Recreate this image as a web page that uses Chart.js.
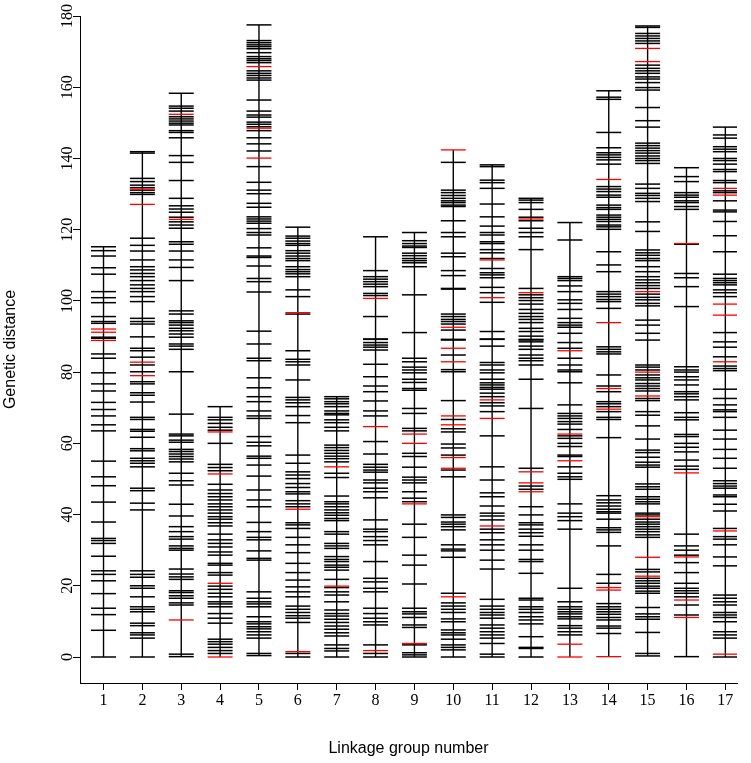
<!DOCTYPE html>
<html><head><meta charset="utf-8">
<script src="https://cdn.jsdelivr.net/npm/chart.js@4/dist/chart.umd.min.js"></script>
<style>html,body{margin:0;padding:0;background:#fff;}#wrap{width:751px;height:763px;}</style>
</head><body><div id="wrap"><canvas id="c" width="751" height="763"></canvas></div>
<script>
// Linkage group numbers (x categories) and y-axis tick labels
const groupNumbers = [1,2,3,4,5,6,7,8,9,10,11,12,13,14,15,16,17];
const yTicks = [0,20,40,60,80,100,120,140,160,180];

// Marker positions (genetic distance, cM) per linkage group; black markers and red markers
const lg1 = [115.2,114.1,112.6,109.3,107.5,102.6,100.9,99.5,95.6,94.2,93.7,89.8,89.5,85.1,83.9,79.8,76.7,74.7,71.5,69.5,67.7,65.2,63.5,55.0,50.6,48.1,43.5,37.9,33.3,32.7,31.9,28.3,24.2,23.2,21.4,17.8,13.7,11.9,7.5,0];
const lg1Red = [92.1,91.2,88.9];
const lg2 = [141.9,141.5,134.4,133.5,132.5,131.8,131.1,130.4,129.9,117.6,115.6,114.0,111.5,109.6,108.7,107.7,106.8,105.7,104.5,103.5,102.6,101.2,99.8,95.1,94.2,93.5,89.9,86.7,86.0,84.2,82.0,80.1,77.3,76.7,74.2,73.5,71.6,67.3,66.7,63.9,63.4,61.7,58.5,57.9,55.8,55.1,54.4,53.4,47.4,46.7,43.2,41.3,24.2,23.2,22.4,20.0,19.3,16.9,14.1,13.4,12.7,9.5,8.8,6.8,6.2,5.3,0];
const lg2Red = [131.4,127.1,82.8,79.0];
const lg3 = [158.3,154.7,154.1,153.3,151.7,151.1,150.5,149.9,149.4,147.8,147.3,145.8,140.8,138.9,133.8,128.8,126.7,125.8,124.9,123.5,122.2,121.3,120.4,116.6,115.9,114.0,111.5,109.4,105.7,97.2,96.3,94.4,93.9,93.2,92.3,91.6,90.7,89.8,87.9,87.3,86.4,80.1,68.2,62.6,62.1,60.9,60.3,58.3,57.7,57.0,56.3,55.6,54.8,51.6,49.5,48.3,42.9,39.6,36.6,35.2,33.8,33.1,31.2,30.5,30.0,24.7,23.3,22.5,21.8,18.6,18.1,17.2,16.5,15.2,14.6,0.8,0.1];
const lg3Red = [152.4,122.9,10.4];
const lg4 = [70.3,67.3,66.6,65.6,64.5,63.7,60.0,54.1,53.2,52.3,48.5,46.9,45.9,45.0,44.1,43.0,42.2,41.3,40.4,39.4,38.7,37.7,36.8,34.5,32.9,31.9,30.9,29.5,28.6,26.3,25.8,23.7,23.0,19.9,19.0,17.9,16.9,15.5,14.9,14.1,12.2,10.9,9.5,5.0,4.3,3.6,2.7,1.8,1.0];
const lg4Red = [63.2,51.4,20.7,0];
const lg5 = [177.5,173.1,172.5,171.9,171.4,170.8,169.7,168.6,168.0,167.5,166.9,164.6,163.9,163.3,162.6,162.0,156.4,153.3,152.2,151.6,150.2,149.6,148.9,147.8,145.8,144.1,142.1,137.7,133.3,131.1,130.1,127.4,126.3,123.6,123.0,122.4,121.8,120.3,119.2,118.5,114.9,112.6,112.2,109.8,106.3,105.4,102.5,91.5,87.9,83.9,83.2,78.4,75.6,73.1,71.7,69.1,67.7,67.0,61.9,60.3,59.3,56.4,55.8,53.9,50.8,46.9,44.1,42.2,37.8,35.2,33.6,32.9,29.8,27.7,27.2,18.3,16.5,15.5,14.9,14.1,11.3,9.9,9.3,8.5,7.9,7.1,6.2,5.3,1.0,0.4];
const lg5Red = [165.8,148.5,140.1];
const lg6 = [120.7,118.2,117.6,116.8,116.1,115.6,114.1,113.4,112.6,111.9,111.3,109.6,108.8,108.2,107.6,106.8,103.1,101.2,96.3,86.0,83.6,82.9,82.0,77.8,72.9,72.2,71.4,70.3,67.8,65.8,56.7,54.4,52.0,51.1,50.1,48.7,47.6,46.4,45.8,43.9,43.0,42.2,37.7,37.1,36.1,33.6,31.5,29.3,26.3,23.7,21.6,19.7,18.3,16.9,14.3,13.4,12.5,11.6,10.9,9.7,1.0,0];
const lg6Red = [96.7,41.5,1.5];
const lg7 = [73.1,72.5,71.7,71.1,70.3,69.1,68.4,68.0,66.6,65.8,64.5,63.5,59.5,58.8,58.0,57.2,56.4,55.7,54.8,51.6,50.4,45.2,43.6,43.0,42.2,41.3,40.5,39.8,38.9,38.3,35.2,34.5,31.9,31.2,30.5,28.2,27.4,26.8,25.8,25.2,24.4,21.8,19.5,18.3,17.4,15.5,13.2,12.2,11.5,10.6,9.7,8.7,7.8,6.8,5.9,3.4,2.4,1.7,0];
const lg7Red = [53.4,19.9];
const lg8 = [118.0,108.5,106.8,106.1,105.4,104.7,104.0,102.1,101.5,95.6,89.3,89.2,88.3,87.6,87.0,86.2,82.2,78.7,76.1,74.5,71.9,69.1,67.7,60.5,57.0,54.1,53.3,52.5,51.9,49.7,48.9,47.4,46.4,44.7,38.5,35.9,35.2,33.8,32.7,31.5,26.8,22.1,21.1,19.3,18.3,13.7,12.2,10.9,9.9,9.0,3.4,1.0,0];
const lg8Red = [100.7,64.7,1.8];
const lg9 = [119.2,116.9,116.1,115.4,115.0,113.4,112.7,111.9,111.3,110.7,109.6,101.7,91.1,83.9,82.9,81.4,80.6,79.8,78.0,77.1,75.4,74.9,69.8,68.4,64.2,63.5,57.2,56.3,53.3,50.5,49.7,48.9,46.4,44.6,43.6,37.3,33.6,28.6,25.8,20.5,13.7,12.7,12.1,11.1,9.0,8.3,3.4,1.2,0.6,0];
const lg9Red = [62.6,60.0,43.0,3.8];
const lg10 = [138.9,131.1,130.4,129.6,128.8,128.1,127.6,126.9,126.5,122.5,119.2,118.0,113.4,112.4,108.5,107.1,103.5,103.3,96.3,95.6,94.8,94.2,93.5,91.8,89.2,89.0,84.8,80.7,80.1,72.0,66.7,64.1,63.2,59.8,58.7,56.7,52.5,50.6,39.9,39.2,37.9,37.3,36.6,35.7,31.5,30.3,29.8,28.0,17.9,15.2,14.3,13.4,12.5,10.7,9.9,7.6,6.8,6.2,5.0,3.4,2.7,2.0,0];
const lg10Red = [142.4,92.6,86.7,82.9,67.7,65.2,56.0,53.0,16.9];
const lg11 = [138.2,137.7,133.9,133.2,131.6,127.2,123.6,121.0,119.2,118.5,116.6,116.1,114.4,113.5,111.9,109.1,107.9,107.3,106.5,103.8,102.3,99.6,91.4,89.3,89.2,87.3,82.7,82.0,80.6,79.8,78.0,77.0,76.4,75.7,75.2,74.1,73.1,71.4,70.5,68.9,62.1,53.4,49.7,46.1,45.0,42.4,40.4,39.6,38.5,35.9,34.9,32.9,31.5,30.0,27.2,24.7,16.2,14.3,13.4,12.5,11.8,10.9,9.0,8.1,7.1,6.2,5.3,3.8,0.8,0];
const lg11Red = [111.5,100.9,72.2,67.0,36.8];
const lg12 = [128.8,128.3,127.6,125.7,123.5,122.5,120.4,119.2,118.0,114.4,103.5,101.7,100.9,100.1,99.1,97.6,96.5,95.6,94.8,93.9,92.3,91.4,90.1,89.2,89.0,88.5,87.3,86.4,84.8,83.9,83.2,82.0,78.0,69.8,53.0,48.0,47.1,42.2,39.9,37.7,37.1,35.9,34.9,33.9,31.5,30.0,27.4,26.8,23.5,16.5,16.0,14.1,13.4,12.5,11.3,10.4,9.3,5.7,2.7,2.4,0];
const lg12Red = [123.0,102.3,52.0,48.9,46.4];
const lg13 = [122.0,117.1,106.8,106.3,105.7,104.2,102.6,100.3,99.3,97.6,95.1,93.9,93.2,92.6,90.9,88.3,86.7,83.9,82.0,80.6,80.1,77.0,70.8,68.4,67.7,67.0,66.1,65.4,63.9,62.1,61.4,60.0,59.1,56.7,56.3,53.4,51.6,50.6,49.9,43.0,40.4,39.4,38.3,35.9,19.3,15.5,14.1,13.4,12.7,12.1,11.3,10.7,8.8,8.1,7.1,6.2];
const lg13Red = [86.0,62.6,55.1,3.6,0];
const lg14 = [159.0,157.2,156.6,147.3,143.0,141.6,141.0,140.3,139.6,138.4,132.1,131.4,130.7,129.7,129.1,126.9,126.2,125.7,124.1,123.5,122.9,122.3,121.3,120.8,120.1,113.8,110.1,108.2,102.6,101.9,101.2,100.4,99.8,97.9,87.1,86.4,85.7,85.1,79.2,76.1,74.5,71.7,71.1,70.3,68.9,67.3,66.7,61.6,45.3,44.1,43.3,42.4,41.5,40.8,40.4,38.7,36.3,35.7,35.0,31.2,23.2,20.7,15.0,14.1,13.4,12.7,12.0,11.1,10.4,8.7,8.1,6.6];
const lg14Red = [134.1,93.9,75.4,69.6,19.5,18.8,0.1];
const lg15 = [177.2,176.8,175.1,174.4,173.7,173.0,172.3,166.2,165.3,164.6,163.9,162.9,162.3,161.3,159.9,159.2,154.3,150.6,148.8,144.3,143.6,142.9,142.2,141.5,140.7,140.0,139.4,138.6,132.8,131.6,130.2,129.6,128.8,127.9,122.2,119.5,114.3,113.5,112.8,111.9,111.3,109.6,108.2,106.8,105.9,105.1,104.3,103.5,101.9,101.0,100.3,99.3,98.6,94.6,93.2,90.9,89.0,82.0,81.4,80.6,79.2,78.4,77.8,76.8,76.1,75.4,74.7,72.6,72.0,68.9,67.9,64.9,61.2,58.1,57.4,56.1,54.7,53.9,53.3,48.6,47.8,47.1,45.0,44.3,43.6,43.0,40.4,39.9,38.7,37.9,37.3,36.6,35.9,35.2,34.3,33.6,24.6,23.9,22.1,21.4,20.7,19.9,19.3,18.5,17.9,13.9,12.1,11.3,10.6,6.9,1.0,0.3];
const lg15Red = [170.9,167.2,102.6,80.0,73.3,39.4,28.0,22.7];
const lg16 = [137.4,134.9,133.5,130.4,129.7,129.1,128.1,127.6,126.5,125.7,115.9,107.7,106.5,104.0,98.4,81.5,80.6,80.0,78.7,77.8,76.4,74.5,73.9,73.1,72.2,68.6,67.3,66.6,62.5,61.9,60.0,58.9,57.6,55.3,53.6,52.7,34.5,31.2,30.0,28.6,26.5,23.7,20.7,19.3,18.6,17.9,16.9,14.6,11.8,0.1];
const lg16Red = [116.1,51.7,28.1,16.0,11.1];
const lg17 = [148.8,146.6,145.7,143.3,142.6,141.9,140.0,139.4,138.4,136.9,136.3,133.8,133.2,130.9,130.4,128.1,125.5,125.0,122.3,118.3,113.8,107.5,106.3,105.7,105.1,104.5,103.1,102.3,101.2,91.1,88.5,87.0,84.3,81.7,81.0,80.4,75.2,72.6,70.8,69.4,68.9,67.3,63.7,61.2,58.3,55.8,53.0,49.5,48.7,48.0,47.4,45.5,45.0,42.9,41.0,36.1,33.8,33.1,31.5,28.1,25.6,17.4,16.5,15.5,14.6,12.5,11.8,11.1,9.9,7.1,6.2,5.3,0];
const lg17Red = [131.6,129.7,99.1,96.0,82.9,35.4,0.8];

const blackMarkers = [lg1,lg2,lg3,lg4,lg5,lg6,lg7,lg8,lg9,lg10,lg11,lg12,lg13,lg14,lg15,lg16,lg17];
const redMarkers = [lg1Red,lg2Red,lg3Red,lg4Red,lg5Red,lg6Red,lg7Red,lg8Red,lg9Red,lg10Red,lg11Red,lg12Red,lg13Red,lg14Red,lg15Red,lg16Red,lg17Red];

const toPoints = (lists) => lists.flatMap((arr, i) => arr.map(v => ({x: groupNumbers[i], y: v})));

const datasets = [];
datasets.push({
  label: 'red', data: toPoints(redMarkers), pointStyle: 'line', pointRadius: 12.5,
  borderColor: '#ff0000', backgroundColor: '#ff0000', borderWidth: 1.3, pointBorderWidth: 1.3, showLine: false, order: 0
});
datasets.push({
  label: 'black', data: toPoints(blackMarkers), pointStyle: 'line', pointRadius: 12.5,
  borderColor: '#000', backgroundColor: '#000', borderWidth: 1.5, pointBorderWidth: 1.5, showLine: false, order: 1
});
groupNumbers.forEach((g, i) => {
  const all = blackMarkers[i].concat(redMarkers[i]);
  datasets.push({
    label: 'LG' + g, data: [{x: g, y: Math.min(...all)}, {x: g, y: Math.max(...all)}],
    showLine: true, borderColor: '#000', borderWidth: 1.4, pointRadius: 0, order: 2
  });
});

const serif = '"Liberation Serif", "Times New Roman", serif';
const sans = '"Liberation Sans", Arial, Helvetica, sans-serif';

new Chart(document.getElementById('c'), {
  type: 'scatter',
  data: { datasets },
  options: {
    responsive: false, animation: false, devicePixelRatio: 1, events: [],
    layout: { padding: { top: 16, right: 0, bottom: 0, left: 0 } },
    plugins: { legend: { display: false }, tooltip: { enabled: false } },
    scales: {
      x: {
        type: 'linear', min: 0.395, max: 17.3,
        afterBuildTicks: s => { s.ticks = groupNumbers.map(v => ({value: v})); },
        afterFit: s => { s.height = 80; },
        grid: { drawOnChartArea: false, drawTicks: true, tickLength: 7, color: '#000', lineWidth: 1 },
        border: { display: true, color: '#000', width: 1 },
        ticks: { color: '#000', font: { family: serif, size: 16 }, padding: 1, maxRotation: 0, autoSkip: false },
        title: { display: true, text: 'Linkage group number', color: '#000', font: { family: sans, size: 16 }, padding: { top: 0, bottom: 5 } }
      },
      y: {
        type: 'linear', min: -7.3, max: 180,
        afterBuildTicks: s => { s.ticks = yTicks.map(v => ({value: v})); },
        afterFit: s => { s.width = 80; },
        grid: { drawOnChartArea: false, drawTicks: true, tickLength: 7, color: '#000', lineWidth: 1 },
        border: { display: true, color: '#000', width: 1 },
        ticks: { color: '#000', font: { family: serif, size: 16 }, padding: -7, minRotation: 90, maxRotation: 90, crossAlign: 'center', autoSkip: false },
        title: { display: true, text: 'Genetic distance', color: '#000', font: { family: sans, size: 16 }, padding: { top: 1, bottom: 0 } }
      }
    }
  }
});
</script>
</body></html>
